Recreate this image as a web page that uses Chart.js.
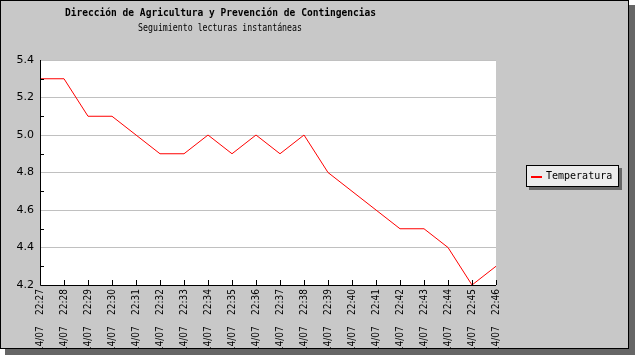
<!DOCTYPE html>
<html>
<head>
<meta charset="utf-8">
<script src="https://cdn.jsdelivr.net/npm/chart.js@4/dist/chart.umd.min.js"></script>
<style>
html,body{margin:0;padding:0;background:#fff;}
canvas{display:block;}
</style>
</head>
<body>
<canvas id="c" width="635" height="355" style="width:635px;height:355px"></canvas>
<script>
const dateLabel = '14/07';
const times = ['22:27','22:28','22:29','22:30','22:31','22:32','22:33','22:34','22:35','22:36','22:37','22:38','22:39','22:40','22:41','22:42','22:43','22:44','22:45','22:46'];
const temperatura = [5.3,5.3,5.1,5.1,5.0,4.9,4.9,5.0,4.9,5.0,4.9,5.0,4.8,4.7,4.6,4.5,4.5,4.4,4.2,4.3];
const yTicks = [4.2,4.4,4.6,4.8,5.0,5.2,5.4];
const titleText = 'Dirección de Agricultura y Prevención de Contingencias';
const subtitleText = 'Seguimiento lecturas instantáneas';
const seriesName = 'Temperatura';

const categories = times.map(t => dateLabel + ' ' + t);

function drawFitted(ctx, text, cx, cy, font, width) {
  ctx.save();
  ctx.font = font;
  const w = ctx.measureText(text).width;
  const k = width / w;
  ctx.translate(cx, cy);
  ctx.scale(k, 1);
  ctx.textAlign = 'center';
  ctx.textBaseline = 'middle';
  ctx.fillText(text, 0, 0);
  ctx.restore();
}

const framePlugin = {
  id: 'frame',
  beforeDraw(chart) {
    const ctx = chart.ctx;
    ctx.save();
    ctx.fillStyle = '#666666';
    ctx.fillRect(5, 5, 630, 350);
    ctx.fillStyle = '#c8c8c8';
    ctx.fillRect(0, 0, 629, 349);
    const a = chart.chartArea;
    ctx.fillStyle = '#ffffff';
    ctx.fillRect(a.left, a.top, a.right - a.left, a.bottom - a.top);
    ctx.restore();
  },
  afterDatasetsDraw(chart) {
    const ctx = chart.ctx;
    const a = chart.chartArea;
    const ys = chart.scales.y, xs = chart.scales.x;
    ctx.save();
    ctx.strokeStyle = '#000';
    ctx.lineWidth = 1;
    for (let v = 4.3; v < 5.4; v += 0.2) {
      const py = Math.round(ys.getPixelForValue(v)) + 0.5;
      ctx.beginPath(); ctx.moveTo(a.left, py); ctx.lineTo(a.left + 4, py); ctx.stroke();
    }
    for (let i = 0; i < categories.length; i++) {
      const px = Math.round(xs.getPixelForValue(i)) + 0.5;
      ctx.beginPath(); ctx.moveTo(px, a.bottom); ctx.lineTo(px, a.bottom - 5); ctx.stroke();
    }
    ctx.beginPath();
    ctx.moveTo(a.left + 0.5, a.top);
    ctx.lineTo(a.left + 0.5, a.bottom + 0.5);
    ctx.lineTo(a.right, a.bottom + 0.5);
    ctx.stroke();
    ctx.restore();
  },
  afterDraw(chart) {
    const ctx = chart.ctx;
    ctx.save();
    ctx.fillStyle = '#666666';
    ctx.fillRect(5, 349, 630, 6);
    ctx.fillRect(629, 5, 6, 350);
    ctx.fillStyle = '#ffffff';
    ctx.fillRect(0, 349, 5, 6);
    ctx.fillRect(629, 0, 6, 5);
    ctx.strokeStyle = '#000';
    ctx.lineWidth = 1;
    ctx.strokeRect(0.5, 0.5, 628, 348);
    ctx.fillStyle = '#000';
    drawFitted(ctx, titleText, 220.5, 13.5, 'bold 11px "DejaVu Sans Mono", monospace', 311);
    drawFitted(ctx, subtitleText, 220, 28, '10px "DejaVu Sans Mono", monospace', 164);
    const ds = chart.data.datasets[0];
    ctx.fillStyle = '#666666';
    ctx.fillRect(529, 168, 93, 22);
    ctx.fillStyle = '#ebebeb';
    ctx.fillRect(526, 165, 93, 22);
    ctx.strokeStyle = '#000';
    ctx.strokeRect(526.5, 165.5, 92, 21);
    ctx.strokeStyle = ds.borderColor;
    ctx.lineWidth = 2;
    ctx.beginPath(); ctx.moveTo(531, 177); ctx.lineTo(542, 177); ctx.stroke();
    ctx.fillStyle = '#000';
    ctx.textAlign = 'left';
    ctx.textBaseline = 'middle';
    ctx.font = '10px "DejaVu Sans Mono", monospace';
    ctx.fillText(ds.label, 546, 176.5);
    ctx.restore();
  }
};

new Chart(document.getElementById('c'), {
  type: 'line',
  data: {
    labels: categories,
    datasets: [{
      label: seriesName,
      data: temperatura,
      borderColor: '#ff0000',
      borderWidth: 1,
      pointRadius: 0,
      tension: 0,
      fill: false
    }]
  },
  options: {
    responsive: false,
    animation: false,
    devicePixelRatio: 1,
    layout: { padding: { left: 0, top: 60, right: 139, bottom: 0 } },
    plugins: { legend: { display: false }, title: { display: false }, tooltip: { enabled: false } },
    scales: {
      x: {
        type: 'category',
        offset: false,
        border: { display: false },
        grid: { display: false, drawTicks: false },
        ticks: {
          autoSkip: false,
          maxRotation: 90,
          minRotation: 90,
          padding: 4,
          color: '#000',
          font: { family: '"Liberation Sans Narrow", "DejaVu Sans Condensed", "DejaVu Sans Mono", monospace', size: 10 },
          callback: function(v, i) { return categories[i].replace(' ', '    '); }
        },
        afterFit: s => { s.height = 70; }
      },
      y: {
        min: 4.2,
        max: 5.4,
        border: { display: false },
        afterBuildTicks: s => { s.ticks = yTicks.map(v => ({ value: v })); },
        grid: { color: '#c0c0c0', drawTicks: false },
        ticks: {
          padding: 6,
          color: '#000',
          font: { family: '"DejaVu Sans", sans-serif', size: 11 },
          callback: v => v.toFixed(1)
        },
        afterFit: s => { s.width = 40; }
      }
    }
  },
  plugins: [framePlugin]
});
</script>
</body>
</html>
